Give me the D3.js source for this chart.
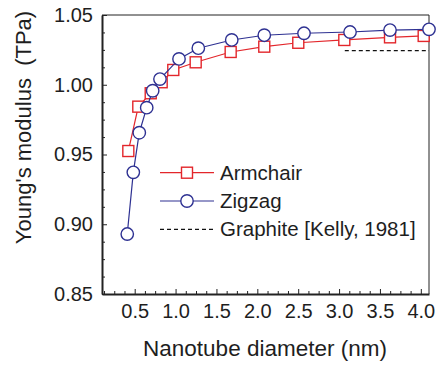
<!DOCTYPE html>
<html>
<head>
<meta charset="utf-8">
<script src="https://cdn.jsdelivr.net/npm/d3@7"></script>
<style>
  body { margin: 0; background: #fff; }
  text { font-family: "Liberation Sans", Arial, sans-serif; fill: #1e1e1e; }
</style>
</head>
<body>
<svg id="chart"></svg>
<script>
const width = 444;
const height = 367;

// data
const armchairD = [0.422, 0.544, 0.696, 0.830, 0.972, 1.246, 1.674, 2.085, 2.501, 3.064, 3.623, 4.035];
const armchairE = [0.9525, 0.9843, 0.9939, 1.0018, 1.0106, 1.0161, 1.0235, 1.0273, 1.0301, 1.0321, 1.034, 1.035];
const zigzagD = [0.409, 0.483, 0.556, 0.647, 0.720, 0.809, 1.042, 1.278, 1.687, 2.085, 2.571, 3.134, 3.623, 4.1];
const zigzagE = [0.893, 0.9372, 0.9656, 0.9836, 0.9957, 1.0041, 1.0185, 1.0262, 1.0321, 1.0355, 1.0369, 1.0378, 1.0392, 1.0397];
const graphiteD = [3.07, 4.1];
const graphiteE = 1.0244;
const xTicks = [0.5, 1.0, 1.5, 2.0, 2.5, 3.0, 3.5, 4.0];
const yTicks = [0.85, 0.90, 0.95, 1.00, 1.05];
const legendLabels = ["Armchair", "Zigzag", "Graphite [Kelly, 1981]"];

const margin = {left: 102, right: 15, top: 15, bottom: 73};

const svg = d3.select("#chart")
    .attr("width", width)
    .attr("height", height);

const x = d3.scaleLinear()
    .domain([0.1, 4.1])
    .range([margin.left, width - margin.right]);

const y = d3.scaleLinear()
    .domain([0.85, 1.05])
    .range([height - margin.bottom, margin.top]);

const red = "#e3262b";
const blue = "#2e3192";

// frame: thin top/right
svg.append("line")
    .attr("x1", x.range()[0]).attr("x2", x.range()[1])
    .attr("y1", y.range()[1]).attr("y2", y.range()[1])
    .attr("stroke", "#222").attr("stroke-width", 1);
svg.append("line")
    .attr("x1", x.range()[1]).attr("x2", x.range()[1])
    .attr("y1", y.range()[0]).attr("y2", y.range()[1])
    .attr("stroke", "#222").attr("stroke-width", 1);

// minor ticks (every quarter of a major step)
const xMinor = d3.range(1, 33).map(i => i * 0.125).filter(v => !xTicks.some(t => Math.abs(t - v) < 1e-6));
const yMinor = d3.range(0, 17).map(i => 0.85 + i * 0.0125).filter(v => !yTicks.some(t => Math.abs(t - v) < 1e-6));

const xAxis = d3.axisBottom(x)
    .tickValues(xTicks)
    .tickFormat(d3.format(".1f"))
    .tickSizeInner(-5)
    .tickSizeOuter(0)
    .tickPadding(10);

svg.append("g")
    .attr("transform", `translate(0, ${y.range()[0]})`)
    .call(xAxis);

svg.append("g")
    .attr("transform", `translate(0, ${y.range()[0]})`)
    .call(d3.axisBottom(x).tickValues(xMinor).tickFormat("").tickSizeInner(-3).tickSizeOuter(0))
    .select(".domain").remove();

const yAxis = d3.axisLeft(y)
    .tickValues(yTicks)
    .tickFormat(d3.format(".2f"))
    .tickSizeInner(-5)
    .tickSizeOuter(0)
    .tickPadding(9);

svg.append("g")
    .attr("transform", `translate(${x.range()[0]}, 0)`)
    .call(yAxis);

svg.append("g")
    .attr("transform", `translate(${x.range()[0]}, 0)`)
    .call(d3.axisLeft(y).tickValues(yMinor).tickFormat("").tickSizeInner(-3).tickSizeOuter(0))
    .select(".domain").remove();

svg.selectAll(".domain").attr("stroke", "#222").attr("stroke-width", 2);
svg.selectAll(".tick line").attr("stroke", "#222").attr("stroke-width", 1);
svg.selectAll(".tick text")
    .style("font-family", "'Liberation Sans', Arial, sans-serif")
    .style("font-size", "20px")
    .attr("fill", "#1e1e1e");

// graphite reference
svg.append("line")
    .attr("x1", x(graphiteD[0])).attr("x2", x(graphiteD[1]))
    .attr("y1", y(graphiteE)).attr("y2", y(graphiteE))
    .attr("stroke", "#111").attr("stroke-width", 1.2)
    .attr("stroke-dasharray", "4 3");

const line = d3.line().x(d => x(d[0])).y(d => y(d[1]));

const armchair = armchairD.map((d, i) => [d, armchairE[i]]);
const zigzag = zigzagD.map((d, i) => [d, zigzagE[i]]);

svg.append("path")
    .datum(armchair)
    .attr("d", line)
    .attr("fill", "none")
    .attr("stroke", red)
    .attr("stroke-width", 1.2);

svg.selectAll(".sq")
    .data(armchair)
    .enter().append("rect")
    .attr("class", "sq")
    .attr("x", d => x(d[0]) - 5.5)
    .attr("y", d => y(d[1]) - 5.5)
    .attr("width", 11)
    .attr("height", 11)
    .attr("fill", "#fff")
    .attr("stroke", red)
    .attr("stroke-width", 1.4);

svg.append("path")
    .datum(zigzag)
    .attr("d", line)
    .attr("fill", "none")
    .attr("stroke", blue)
    .attr("stroke-width", 1.2);

svg.selectAll(".ci")
    .data(zigzag)
    .enter().append("circle")
    .attr("class", "ci")
    .attr("cx", d => x(d[0]))
    .attr("cy", d => y(d[1]))
    .attr("r", 6.2)
    .attr("fill", "#fff")
    .attr("stroke", blue)
    .attr("stroke-width", 1.4);

// legend
const legend = svg.append("g").attr("transform", "translate(160, 172.7)");
legendLabels.forEach((label, i) => {
    const g = legend.append("g").attr("transform", `translate(0, ${i * 28.3})`);
    const ln = g.append("line")
        .attr("x1", 0).attr("x2", 54)
        .attr("y1", 0).attr("y2", 0)
        .attr("stroke-width", 1.2);
    if (i === 0) {
        ln.attr("stroke", red);
        g.append("rect").attr("x", 21.5).attr("y", -5.5).attr("width", 11).attr("height", 11)
            .attr("fill", "#fff").attr("stroke", red).attr("stroke-width", 1.4);
    } else if (i === 1) {
        ln.attr("stroke", blue);
        g.append("circle").attr("cx", 27).attr("cy", 0).attr("r", 6.2)
            .attr("fill", "#fff").attr("stroke", blue).attr("stroke-width", 1.4);
    } else {
        ln.attr("stroke", "#111").attr("stroke-dasharray", "4 3");
    }
    g.append("text")
        .attr("x", 60)
        .attr("y", 0)
        .attr("dy", "0.35em")
        .style("font-size", "20.5px")
        .text(label);
});

// axis titles
svg.append("text")
    .attr("x", 265)
    .attr("y", 356)
    .attr("text-anchor", "middle")
    .style("font-size", "22.5px")
    .text("Nanotube diameter (nm)");

svg.append("text")
    .attr("transform", `translate(31, 127.5) rotate(-90)`)
    .attr("text-anchor", "middle")
    .style("font-size", "22px")
    .style("white-space", "pre")
    .attr("xml:space", "preserve")
    .text("Young's modulus  (TPa)");
</script>
</body>
</html>
